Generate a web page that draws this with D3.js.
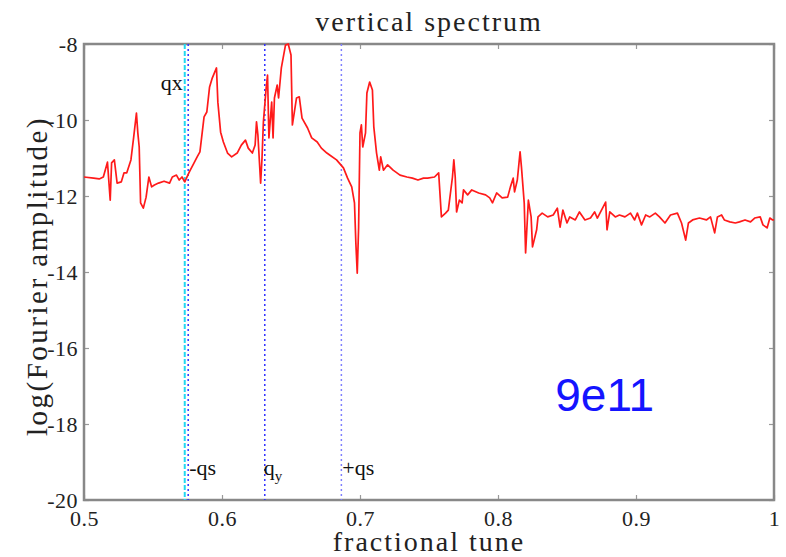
<!DOCTYPE html>
<html>
<head>
<meta charset="utf-8">
<script src="https://cdn.jsdelivr.net/npm/d3@7"></script>
<style>
  body { margin: 0; background: #fff; }
  text { font-family: "Liberation Serif", "DejaVu Serif", serif; }
</style>
</head>
<body>
<div id="chart"></div>
<script>
// fractional tune (x) and log of Fourier amplitude (y)
var tune = [0.500, 0.507, 0.511, 0.514, 0.517, 0.519, 0.520, 0.522, 0.524, 0.527,
  0.529, 0.531, 0.534, 0.536, 0.538, 0.539, 0.540, 0.541, 0.543, 0.545,
  0.547, 0.549, 0.551, 0.554, 0.558, 0.562, 0.564, 0.567, 0.569, 0.571,
  0.573, 0.576, 0.577, 0.579, 0.582, 0.584, 0.587, 0.589, 0.591, 0.593,
  0.596, 0.597, 0.599, 0.601, 0.604, 0.607, 0.611, 0.614, 0.617, 0.619,
  0.622, 0.624, 0.625, 0.626, 0.628, 0.629, 0.630, 0.632, 0.633, 0.634,
  0.636, 0.637, 0.638, 0.640, 0.641, 0.643, 0.646, 0.648, 0.650, 0.651,
  0.654, 0.656, 0.658, 0.662, 0.665, 0.669, 0.672, 0.676, 0.678, 0.683,
  0.688, 0.691, 0.694, 0.696, 0.697, 0.698, 0.699, 0.700, 0.701, 0.702,
  0.704, 0.705, 0.707, 0.709, 0.710, 0.712, 0.714, 0.715, 0.717, 0.720,
  0.724, 0.729, 0.734, 0.738, 0.742, 0.746, 0.749, 0.754, 0.757, 0.759,
  0.762, 0.764, 0.767, 0.768, 0.769, 0.770, 0.772, 0.774, 0.775, 0.778,
  0.781, 0.786, 0.791, 0.794, 0.796, 0.799, 0.803, 0.807, 0.809, 0.811,
  0.812, 0.814, 0.816, 0.817, 0.819, 0.820, 0.822, 0.824, 0.825, 0.828,
  0.829, 0.832, 0.836, 0.840, 0.843, 0.845, 0.847, 0.850, 0.852, 0.856,
  0.859, 0.863, 0.867, 0.870, 0.872, 0.875, 0.878, 0.879, 0.881, 0.885,
  0.888, 0.892, 0.896, 0.899, 0.901, 0.904, 0.907, 0.910, 0.914, 0.917,
  0.921, 0.925, 0.930, 0.933, 0.936, 0.938, 0.941, 0.946, 0.951, 0.954,
  0.957, 0.959, 0.962, 0.964, 0.968, 0.972, 0.975, 0.979, 0.983, 0.986,
  0.990, 0.992, 0.995, 0.997, 0.999, 1.000];

var logAmp = [-11.50, -11.53, -11.55, -11.50, -11.11, -12.11, -11.13, -11.05, -11.66, -11.63,
  -11.39, -11.39, -11.05, -10.45, -9.82, -10.34, -10.71, -12.18, -12.32, -12.03,
  -11.50, -11.76, -11.71, -11.66, -11.61, -11.66, -11.50, -11.45, -11.58, -11.50,
  -11.63, -11.39, -11.32, -11.18, -10.97, -10.84, -9.92, -9.79, -9.13, -8.89,
  -8.63, -9.53, -10.32, -10.58, -10.87, -10.97, -10.87, -10.66, -10.53, -10.74,
  -10.87, -10.66, -10.05, -10.39, -11.66, -11.00, -10.05, -9.16, -8.82, -10.47,
  -9.53, -10.47, -9.42, -9.08, -9.42, -8.63, -8.03, -8.00, -8.29, -10.13,
  -9.42, -9.39, -9.95, -10.21, -10.47, -10.58, -10.74, -10.87, -10.92, -11.05,
  -11.26, -11.53, -11.76, -12.18, -13.24, -14.03, -12.82, -10.34, -10.13, -10.71,
  -10.34, -9.29, -9.00, -9.21, -10.18, -10.87, -11.32, -10.97, -11.32, -11.18,
  -11.32, -11.45, -11.50, -11.53, -11.58, -11.53, -11.53, -11.50, -11.39, -12.55,
  -12.45, -12.37, -11.50, -11.05, -11.50, -12.42, -12.11, -12.18, -11.84, -11.97,
  -11.84, -11.92, -11.97, -12.05, -12.18, -11.92, -12.05, -12.03, -11.76, -11.53,
  -11.89, -11.58, -10.84, -11.24, -12.18, -13.50, -12.11, -12.55, -13.34, -12.89,
  -12.55, -12.45, -12.55, -12.50, -12.32, -12.82, -12.37, -12.71, -12.55, -12.63,
  -12.42, -12.63, -12.58, -12.42, -12.58, -12.37, -12.16, -12.89, -12.42, -12.55,
  -12.50, -12.55, -12.45, -12.63, -12.45, -12.76, -12.50, -12.55, -12.45, -12.55,
  -12.71, -12.50, -12.45, -12.71, -13.16, -12.71, -12.63, -12.58, -12.63, -12.55,
  -12.97, -12.55, -12.50, -12.63, -12.68, -12.71, -12.68, -12.63, -12.68, -12.58,
  -12.55, -12.76, -12.84, -12.58, -12.63, -12.63];

var xTicks = [0.5, 0.6, 0.7, 0.8, 0.9, 1];
var yTicks = [-8, -10, -12, -14, -16, -18, -20];

// marker lines: qx, -qs, qy, +qs
var markerNames = ["qx", "-qs", "qy", "+qs"];
var markerTunes = [0.573, 0.5755, 0.631, 0.6865];

var margin = {top: 44, right: 12, bottom: 57, left: 84},
  width = 786,
  height = 557,
  innerWidth = width - margin.left - margin.right,
  innerHeight = height - margin.top - margin.bottom;

var svg = d3.select("#chart")
  .append("svg")
  .attr("width", width)
  .attr("height", height);

var g = svg.append("g")
  .attr("transform", "translate(" + margin.left + "," + margin.top + ")");

var x = d3.scaleLinear().domain([0.5, 1]).range([0, innerWidth]);
var y = d3.scaleLinear().domain([-20, -8]).range([innerHeight, 0]);

var fmtX = function (d) { return d === 1 ? "1" : d.toFixed(1); };
var fmtY = function (d) { return String(d); };

// tick labels at bottom and left, tick marks on all four sides pointing in
g.append("g")
  .attr("transform", "translate(0," + innerHeight + ")")
  .call(d3.axisBottom(x).tickValues(xTicks).tickSize(-5).tickPadding(10).tickFormat(fmtX));
g.append("g")
  .call(d3.axisLeft(y).tickValues(yTicks).tickSize(-5).tickPadding(6).tickFormat(fmtY));

var topTicks = g.append("g");
topTicks.call(d3.axisTop(x).tickValues(xTicks).tickSize(-5));
topTicks.selectAll(".tick text").remove();
var rightTicks = g.append("g").attr("transform", "translate(" + innerWidth + ",0)");
rightTicks.call(d3.axisRight(y).tickValues(yTicks).tickSize(-5));
rightTicks.selectAll(".tick text").remove();

g.selectAll(".domain").remove();
g.selectAll(".tick line").attr("stroke", "#999").attr("stroke-width", 1.2);
g.selectAll(".tick text")
  .attr("fill", "#222")
  .style("font-family", "'Liberation Serif', serif")
  .style("font-size", "22px")
  .style("letter-spacing", "0.5px");

// frame
g.append("rect")
  .attr("x", 0).attr("y", 0)
  .attr("width", innerWidth).attr("height", innerHeight)
  .attr("fill", "none")
  .attr("stroke", "#888")
  .attr("stroke-width", 2.5);

// vertical markers
var markerColor = ["#22d8f0", "#3030ff", "#3030ff", "#7f7fff"];
var markerDash = ["5,2", "2,3", "2,3", "2,3"];
g.selectAll(".marker")
  .data(markerTunes)
  .enter().append("line")
  .attr("class", "marker")
  .attr("x1", function (d) { return x(d); })
  .attr("x2", function (d) { return x(d); })
  .attr("y1", 0).attr("y2", innerHeight)
  .attr("stroke", function (d, i) { return markerColor[i]; })
  .attr("stroke-width", function (d, i) { return i === 0 ? 2 : 1.5; })
  .attr("stroke-dasharray", function (d, i) { return markerDash[i]; });

// spectrum line
var pts = tune.map(function (t, i) { return [t, logAmp[i]]; });
var line = d3.line()
  .x(function (d) { return x(d[0]); })
  .y(function (d) { return y(d[1]); });

g.append("path")
  .datum(pts)
  .attr("fill", "none")
  .attr("stroke", "#ff1a1a")
  .attr("stroke-width", 1.7)
  .attr("stroke-linejoin", "round")
  .attr("d", line);

// marker labels
g.append("text")
  .attr("x", x(markerTunes[0]) - 2)
  .attr("y", y(-9.2))
  .attr("text-anchor", "end")
  .attr("font-size", "22px")
  .attr("fill", "#111")
  .text(markerNames[0]);

g.append("text")
  .attr("x", x(markerTunes[1]) + 1)
  .attr("y", y(-19.35))
  .attr("font-size", "22px")
  .attr("fill", "#111")
  .text(markerNames[1]);

var qy = g.append("text")
  .attr("x", x(markerTunes[2]) - 1)
  .attr("y", y(-19.35))
  .attr("font-size", "22px")
  .attr("fill", "#111");
qy.append("tspan").text("q");
qy.append("tspan").attr("dy", 6).attr("font-size", "15px").text("y");

g.append("text")
  .attr("x", x(markerTunes[3]) + 1)
  .attr("y", y(-19.35))
  .attr("font-size", "22px")
  .attr("fill", "#111")
  .text(markerNames[3]);

// beam intensity label
g.append("text")
  .attr("x", x(0.8415))
  .attr("y", y(-17.65))
  .attr("font-size", "46px")
  .attr("fill", "#1414ff")
  .style("font-family", "'Liberation Sans', Arial, sans-serif")
  .text("9e11");

// title and axis titles
svg.append("text")
  .attr("x", margin.left + innerWidth / 2)
  .attr("y", 31)
  .attr("text-anchor", "middle")
  .attr("font-size", "28px")
  .style("letter-spacing", "2px")
  .attr("fill", "#222")
  .text("vertical spectrum");

svg.append("text")
  .attr("x", margin.left + innerWidth / 2)
  .attr("y", 551)
  .attr("text-anchor", "middle")
  .attr("font-size", "28px")
  .style("letter-spacing", "2px")
  .attr("fill", "#222")
  .text("fractional tune");

svg.append("text")
  .attr("transform", "translate(47," + (margin.top + innerHeight / 2 + 4) + ") rotate(-90)")
  .attr("text-anchor", "middle")
  .attr("font-size", "29px")
  .style("letter-spacing", "2.5px")
  .attr("fill", "#222")
  .text("log(Fourier amplitude)");
</script>
</body>
</html>
